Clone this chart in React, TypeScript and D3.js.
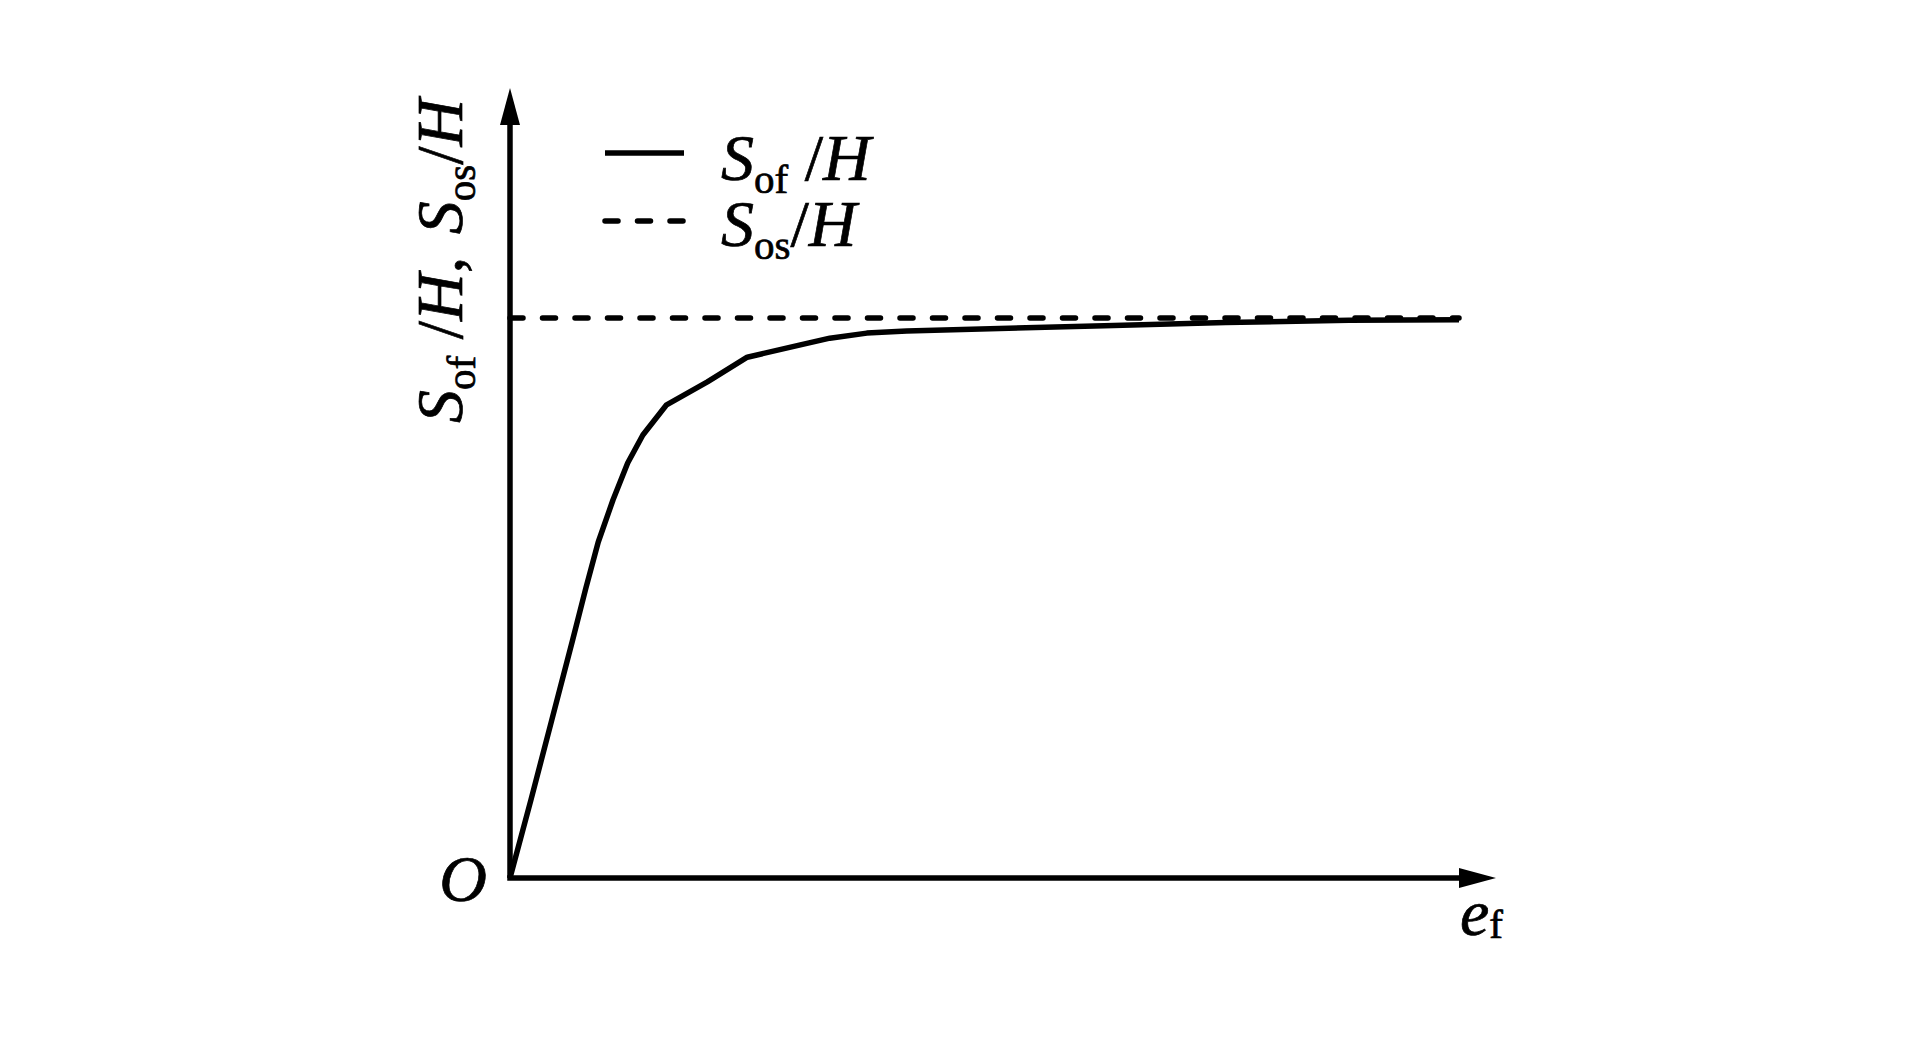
import React from "react";
import * as d3 from "d3";

// e_f (relative units, 0..100) and S_of/H (relative to S_os/H = 1)
const efValues = [0, 2.2, 4.4, 6.6, 8.0, 9.3, 10.85, 12.4, 14.0, 16.5, 20.8, 25.0, 30.6, 33.7, 37.6, 41.8, 62.6, 75.4, 88.4, 100];
const sofValues = [0, 0.139, 0.282, 0.425, 0.518, 0.6, 0.675, 0.741, 0.791, 0.845, 0.886, 0.93, 0.952, 0.964, 0.973, 0.977, 0.986, 0.992, 0.996, 0.997];
const sosValues = [1, 1];
const sosEf = [0, 100];
const legendLabels = [
  { main: "S", sub: "of", space: true, tail: "H", dashed: false },
  { main: "S", sub: "os", space: false, tail: "H", dashed: true },
];

const FONT = "Liberation Serif";
const FS = 66;
const SUB = 41;
const LW = 5.5;

export default function App() {
  const W = 1923, H = 1039;
  const x = d3.scaleLinear().domain([0, 100]).range([510, 1459]);
  const y = d3.scaleLinear().domain([0, 1]).range([878, 318]);
  const line = d3.line<number>().x((_, i) => x(efValues[i])).y((d) => y(d)).curve(d3.curveLinear);
  const sosLine = d3.line<number>().x((_, i) => x(sosEf[i])).y((d) => y(d));

  const x0 = x(0), y0 = y(0);
  const yTop = 88; // arrow tip of y-axis
  const xEnd = 1496; // arrow tip of x-axis
  const aLen = 37, aHalf = 10;
  const textStroke = { stroke: "#000", strokeWidth: 0.7 };

  return (
    <svg width={W} height={H} style={{ position: "absolute", left: 0, top: 0, background: "#fff" }}>
      <rect width={W} height={H} fill="#fff" />
      {/* axes */}
      <line x1={x0} y1={y0} x2={x0} y2={yTop + aLen - 2} stroke="#000" strokeWidth={LW} />
      <line x1={x0 - LW / 2} y1={y0} x2={xEnd - aLen + 2} y2={y0} stroke="#000" strokeWidth={LW} />
      <path d={`M${x0},${yTop} L${x0 - aHalf},${yTop + aLen} L${x0 + aHalf},${yTop + aLen} Z`} fill="#000" />
      <path d={`M${xEnd},${y0} L${xEnd - aLen},${y0 - aHalf} L${xEnd - aLen},${y0 + aHalf} Z`} fill="#000" />

      {/* series */}
      <path d={sosLine(sosValues) || ""} fill="none" stroke="#000" strokeWidth={LW} strokeDasharray="13 19.5" strokeLinecap="round" />
      <path d={line(sofValues) || ""} fill="none" stroke="#000" strokeWidth={LW} strokeLinejoin="round" />

      {/* legend */}
      {legendLabels.map((l, i) => {
        const ly = 153 + i * 68;
        const by = 180 + i * 66;
        return (
          <g key={i}>
            <line x1={605} x2={684} y1={ly} y2={ly} stroke="#000" strokeWidth={LW}
              strokeDasharray={l.dashed ? "13 19.5" : undefined} strokeLinecap={l.dashed ? "round" : "butt"} />
            <text x={721} y={by} style={{ fontFamily: FONT }} fontSize={FS} fill="#000" {...textStroke}>
              <tspan fontStyle="italic">{l.main}</tspan>
              <tspan fontSize={SUB} dy={13}>{l.sub}</tspan>
              <tspan dy={-13}>{l.space ? " /" : "/"}</tspan>
              <tspan fontStyle="italic">{l.tail}</tspan>
            </text>
          </g>
        );
      })}

      {/* y label */}
      <text transform={`translate(462,423) rotate(-90)`} style={{ fontFamily: FONT }} fontSize={FS} fill="#000" {...textStroke}>
        <tspan fontStyle="italic">S</tspan>
        <tspan fontSize={SUB} dy={13}>of</tspan>
        <tspan dy={-13}> /</tspan>
        <tspan fontStyle="italic">H</tspan>
        <tspan>, </tspan>
        <tspan fontStyle="italic" dx={6}>S</tspan>
        <tspan fontSize={SUB} dy={13}>os</tspan>
        <tspan dy={-13}>/</tspan>
        <tspan fontStyle="italic">H</tspan>
      </text>

      {/* origin and x label */}
      <text x={487} y={901} textAnchor="end" style={{ fontFamily: FONT }} fontSize={FS} fontStyle="italic" fill="#000" {...textStroke}>O</text>
      <text x={1460} y={935} style={{ fontFamily: FONT }} fontSize={FS} fill="#000" {...textStroke}>
        <tspan fontStyle="italic">e</tspan>
        <tspan fontSize={SUB} dy={3}>f</tspan>
      </text>
    </svg>
  );
}
